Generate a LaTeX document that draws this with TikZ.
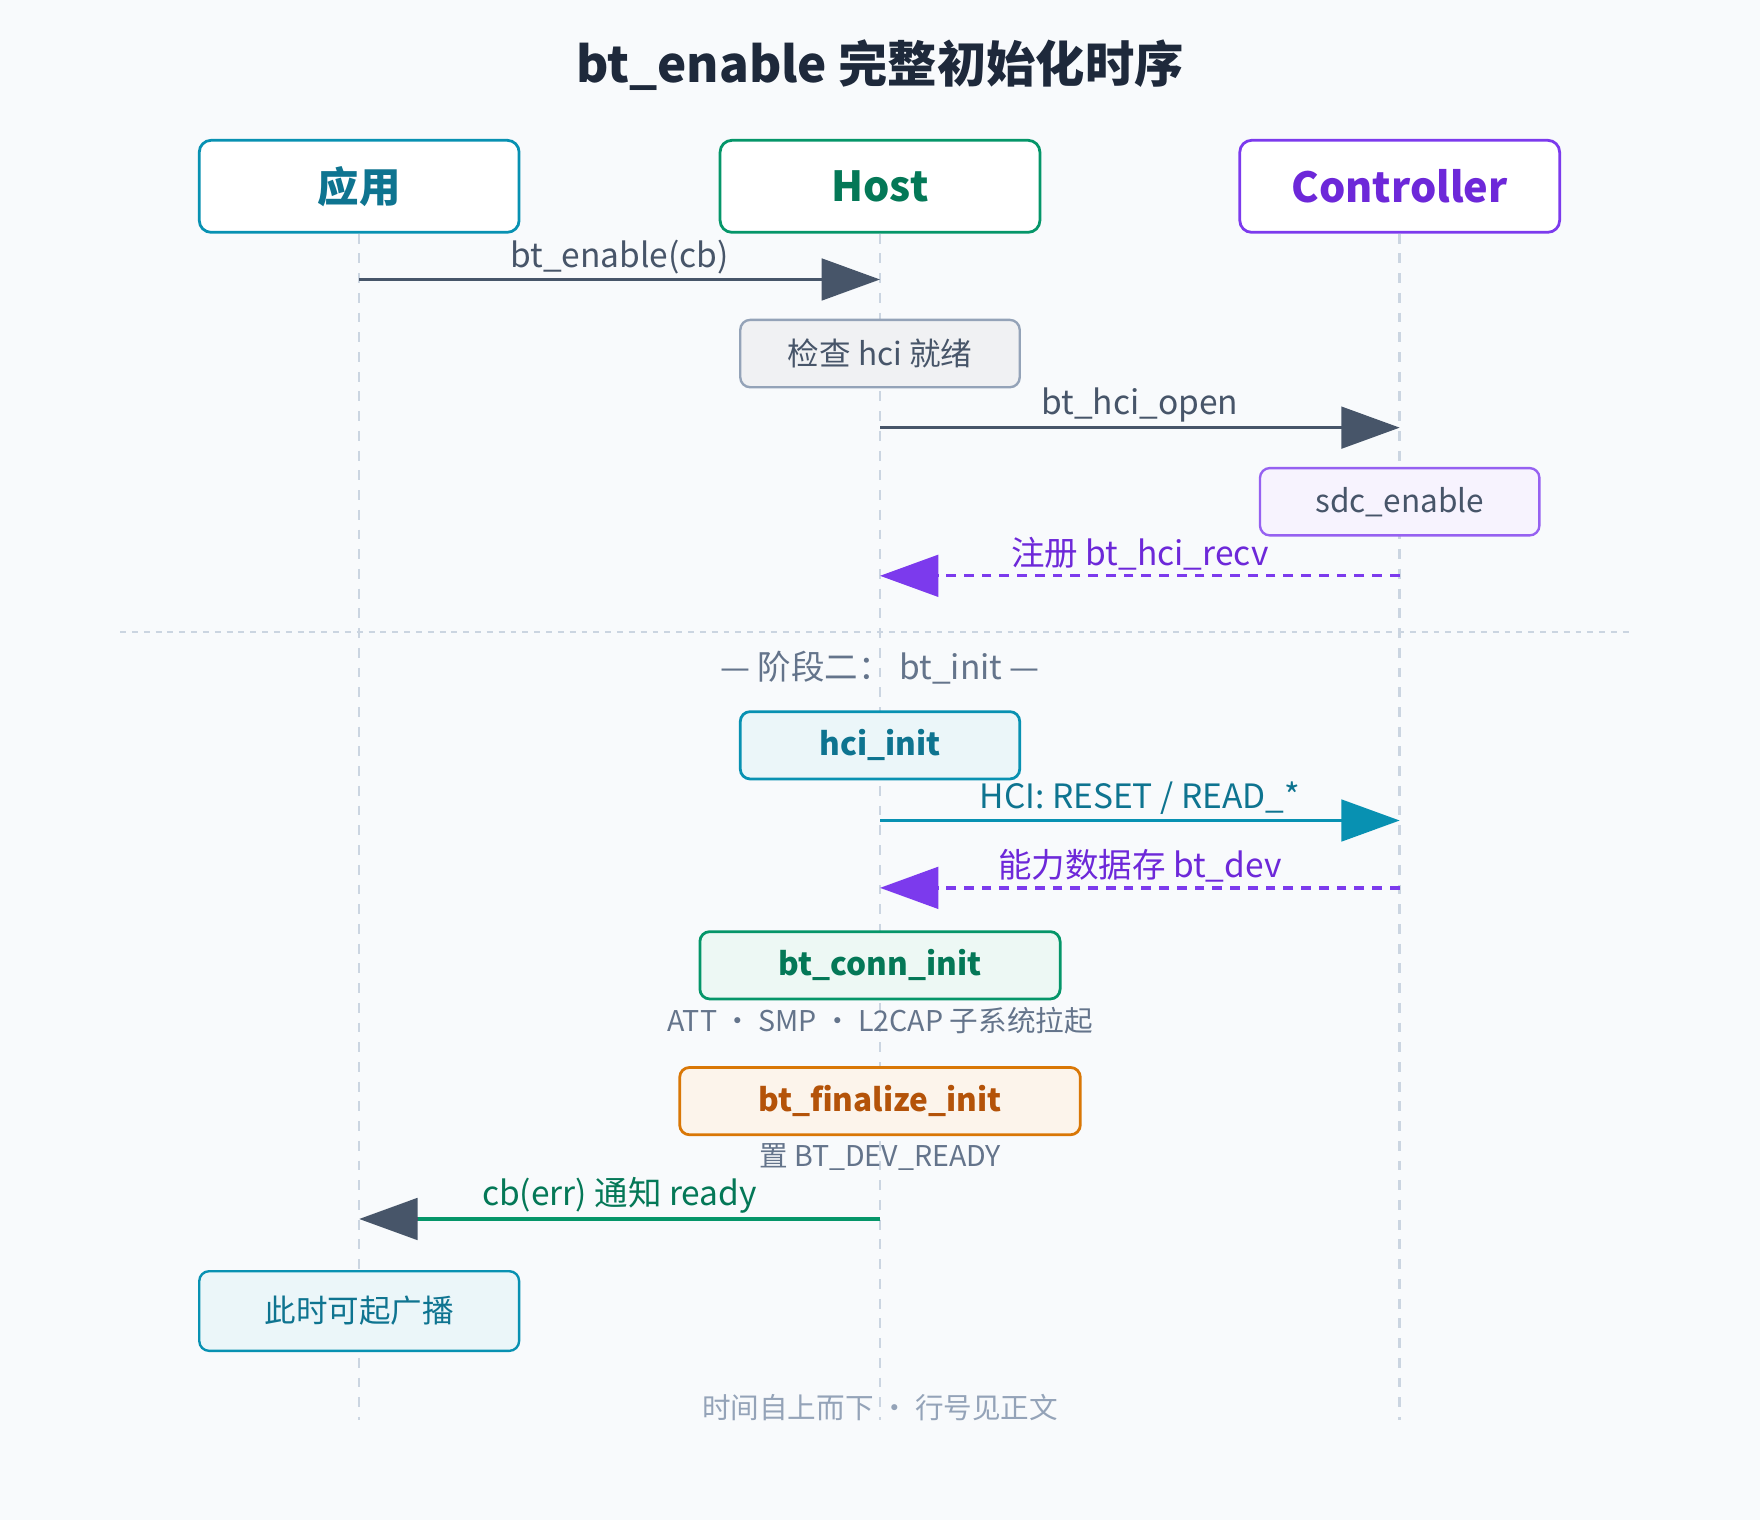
\documentclass[tikz,border=0pt]{standalone}
\usepackage{fontspec}
\setmainfont{Noto Sans CJK SC}
\usetikzlibrary{arrows.meta, positioning}
\definecolor{bgpage}{HTML}{F8FAFC}
\definecolor{ink}{HTML}{1E293B}
\definecolor{slate}{HTML}{475569}
\definecolor{mutegray}{HTML}{64748B}
\definecolor{lightgray}{HTML}{94A3B8}
\definecolor{lifegray}{HTML}{CBD5E1}
\definecolor{appteal}{HTML}{0891B2}
\definecolor{appdark}{HTML}{0E7490}
\definecolor{hostgreen}{HTML}{059669}
\definecolor{hostdark}{HTML}{047857}
\definecolor{ctrlpurple}{HTML}{7C3AED}
\definecolor{ctrldark}{HTML}{6D28D9}
\definecolor{finorange}{HTML}{D97706}
\definecolor{findark}{HTML}{B45309}
\begin{document}
\begin{tikzpicture}[x=0.02cm, y=-0.02cm,
  actor/.style={rectangle, rounded corners=6pt, line width=1.4pt, fill=white, minimum width=5.7cm, minimum height=1.64cm, font=\fontsize{21}{24}\selectfont\bfseries},
  note/.style={rectangle, rounded corners=5pt, line width=1.2pt, minimum width=4.98cm, minimum height=1.2cm, font=\fontsize{16}{19}\selectfont},
  initbox/.style={rectangle, rounded corners=5pt, line width=1.4pt, minimum height=1.2cm, font=\fontsize{16}{19}\selectfont\bfseries},
  life/.style={draw=lifegray, line width=1.3pt, dash pattern=on 5pt off 5pt},
  msg/.style={line width=1.7pt, -{Triangle[length=1.04cm, width=0.74cm]}},
  reply/.style={msg, dash pattern=on 5pt off 4pt},
  lbl/.style={font=\fontsize{17}{20}\selectfont, inner sep=2pt},
  sub/.style={font=\fontsize{14.5}{17}\selectfont, text=mutegray}
]
  \fill[bgpage] (0,0) rectangle (1568,1354);
  \useasboundingbox (0,0) rectangle (1568,1354);

  \node[font=\fontsize{25}{30}\selectfont\bfseries, text=ink] (title) at (784,58) {bt\_enable 完整初始化时序};

  % participants
  \node[actor, draw=appteal, text=appdark] (app) at (320,166) {应用};
  \node[actor, draw=hostgreen, text=hostdark] (host) at (784,166) {Host};
  \node[actor, draw=ctrlpurple, text=ctrldark] (ctrl) at (1247,166) {Controller};

  % lifelines
  \coordinate (append) at (320,1265);
  \coordinate (hostend) at (784,1265);
  \coordinate (ctrlend) at (1247,1265);
  \draw[life] (app.south) -- (append);
  \draw[life] (host.south) -- (hostend);
  \draw[life] (ctrl.south) -- (ctrlend);

  % phase one
  \coordinate (a1) at (320,249);  \coordinate (h1) at (784,249);
  \draw[msg, slate] (a1) -- node[lbl, above, text=slate] {bt\_enable(cb)} (h1);

  \node[note, fill=slate!8, draw=lightgray, text=slate] (check) at (784,315) {检查 hci 就绪};

  \coordinate (h2) at (784,381);  \coordinate (c2) at (1247,381);
  \draw[msg, slate] (h2) -- node[lbl, above, text=slate] {bt\_hci\_open} (c2);

  \node[note, fill=ctrlpurple!6, draw=ctrlpurple!80, text=slate] (sdc) at (1247,447) {sdc\_enable};

  \coordinate (c3) at (1247,513);  \coordinate (h3) at (784,513);
  \draw[reply, ctrlpurple] (c3) -- node[lbl, above, text=ctrldark] {注册 bt\_hci\_recv} (h3);

  % separator
  \coordinate (sepl) at (107,563);  \coordinate (sepr) at (1455,563);
  \draw[lifegray, line width=1.2pt, dash pattern=on 3pt off 3pt] (sepl) -- (sepr);
  \node[font=\fontsize{17}{20}\selectfont, text=mutegray] (phase) at (784,595) {— 阶段二：  bt\_init —};

  % phase two
  \node[initbox, minimum width=4.98cm, fill=appteal!8, draw=appteal, text=appdark] (hciinit) at (784,664) {hci\_init};

  \coordinate (h4) at (784,731);  \coordinate (c4) at (1247,731);
  \draw[msg, appteal] (h4) -- node[lbl, above, text=appdark] {HCI: RESET / READ\_*} (c4);

  \coordinate (c5) at (1247,791);  \coordinate (h5) at (784,791);
  \draw[reply, ctrlpurple] (c5) -- node[lbl, above, text=ctrldark] {能力数据存 bt\_dev} (h5);

  \node[initbox, minimum width=6.42cm, fill=hostgreen!7, draw=hostgreen, text=hostdark] (conninit) at (784,860) {bt\_conn\_init};
  \node[sub, below=0pt of conninit] (connsub) {ATT ・ SMP ・ L2CAP 子系统拉起};

  \node[initbox, minimum width=7.14cm, fill=finorange!8, draw=finorange, text=findark] (fininit) at (784,981) {bt\_finalize\_init};
  \node[sub, below=0pt of fininit] (finsub) {置 BT\_DEV\_READY};

  \coordinate (h6) at (784,1086);  \coordinate (a6) at (320,1086);
  \draw[msg, slate] (h6) -- node[lbl, above, text=hostdark] {cb(err) 通知 ready} (a6);
  \draw[line width=1.7pt, hostgreen] (h6) -- (372,1086);

  \node[note, minimum width=5.7cm, minimum height=1.42cm, fill=appteal!8, draw=appteal, text=appdark] (adv) at (320,1168) {此时可起广播};

  \node[font=\fontsize{14.5}{17}\selectfont, text=lightgray] (footer) at (784,1254) {时间自上而下 ・ 行号见正文};
\end{tikzpicture}
\end{document}
